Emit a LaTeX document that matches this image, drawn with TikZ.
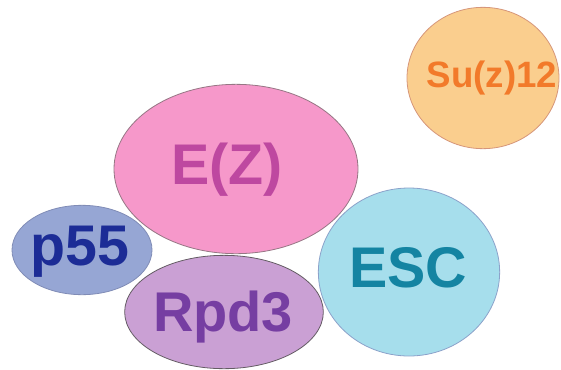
\documentclass[tikz,border=0pt]{standalone}
\usepackage{fontspec}
\setsansfont{Liberation Sans}
\usetikzlibrary{shapes.geometric}
\definecolor{ezfill}{RGB}{246,152,202}
\definecolor{ezink}{RGB}{190,72,160}
\definecolor{ezedge}{RGB}{150,118,132}
\definecolor{pfill}{RGB}{150,166,212}
\definecolor{pinkblue}{RGB}{28,44,150}
\definecolor{pedge}{RGB}{128,140,182}
\definecolor{rfill}{RGB}{202,160,212}
\definecolor{rink}{RGB}{118,62,162}
\definecolor{redge}{RGB}{100,92,100}
\definecolor{efill}{RGB}{166,222,236}
\definecolor{eink}{RGB}{20,132,162}
\definecolor{eedge}{RGB}{140,162,202}
\definecolor{sfill}{RGB}{250,206,142}
\definecolor{sink}{RGB}{242,122,42}
\definecolor{sedge}{RGB}{214,150,122}
\tikzset{
  blob/.style={ellipse, inner sep=0pt, line width=0.6pt},
  lbl/.style={font=\sffamily\bfseries, inner sep=0pt}
}
\begin{document}
\begin{tikzpicture}[x=0.75pt, y=-0.75pt]
  \useasboundingbox (0,0) rectangle (561,369);
  % complex members
  \node[blob, draw=ezedge, fill=ezfill, minimum width=183pt, minimum height=127pt] (ez) at (236,169) {};
  \node[lbl, text=ezink, font=\sffamily\bfseries\fontsize{43}{43}\selectfont] (ezl) at (227,170) {E(Z)};
  \node[blob, draw=pedge, fill=pfill, minimum width=105pt, minimum height=67pt] (p55) at (82,250) {};
  \node[lbl, text=pinkblue, font=\sffamily\bfseries\fontsize{43}{43}\selectfont] (p55l) at (80,252) {p55};
  \node[blob, draw=redge, fill=rfill, minimum width=149pt, minimum height=85pt] (rpd) at (224,312) {};
  \node[lbl, text=rink, font=\sffamily\bfseries\fontsize{42}{42}\selectfont] (rpdl) at (223,317) {Rpd3};
  \node[blob, draw=eedge, fill=efill, minimum width=136pt, minimum height=126pt] (esc) at (409,272) {};
  \node[lbl, text=eink, font=\sffamily\bfseries\fontsize{43}{43}\selectfont] (escl) at (408,268) {ESC};
  % separate one
  \node[blob, draw=sedge, fill=sfill, minimum width=114pt, minimum height=106pt] (suz) at (483,78) {};
  \node[lbl, text=sink, font=\sffamily\bfseries\fontsize{27.5}{27.5}\selectfont] (suzl) at (492,78) {Su(z)12};
\end{tikzpicture}
\end{document}
